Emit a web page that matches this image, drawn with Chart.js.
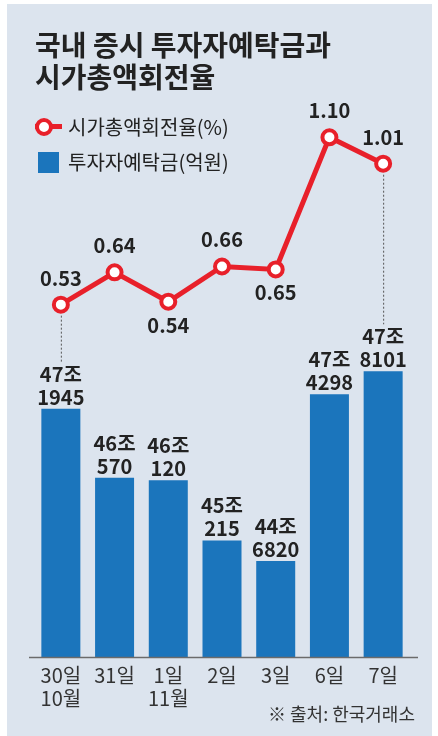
<!DOCTYPE html>
<html>
<head>
  <meta charset="UTF-8">
  <title>국내 증시 투자자예탁금과 시가총액회전율</title>
  <script src="https://cdn.jsdelivr.net/npm/chart.js"></script>
  <style>
    html, body { margin: 0; padding: 0; background: #fff; }
    body {
      width: 438px; height: 736px; position: relative; overflow: hidden;
      font-family: 'Noto Sans CJK KR', 'Noto Sans', sans-serif; color: #222;
    }
    #panel { position: absolute; left: 7px; top: 4px; width: 425px; height: 732px; background: #dce4ee; }
    #title {
      position: absolute; left: 35px; top: 28px; margin: 0;
      font-size: 28px; font-weight: 700; line-height: 32px; color: #222;
    }
    .legText { position: absolute; left: 68px; font-size: 20px; line-height: 24px; color: #222; }
    #mkLine { position: absolute; left: 35px; top: 124px; width: 27px; height: 5px; background: #e8202a; }
    #mkDot {
      position: absolute; left: 35px; top: 118px; width: 10px; height: 10px;
      border: 4px solid #e8202a; border-radius: 50%; background: #fff;
    }
    #mkBar { position: absolute; left: 38px; top: 152px; width: 21px; height: 21px; background: #1b75bc; }
    #source { position: absolute; right: 23px; top: 700px; font-size: 18px; line-height: 26px; color: #333; }
    #chart { position: absolute; left: 0; top: 0; }
  </style>
</head>
<body>
  <div id="panel"></div>
  <canvas id="chart" width="438" height="736"></canvas>
  <h1 id="title">국내 증시 투자자예탁금과<br>시가총액회전율</h1>
  <div id="mkLine"></div><div id="mkDot"></div>
  <div class="legText" style="top:115px">시가총액회전율(%)</div>
  <div id="mkBar"></div>
  <div class="legText" style="top:150px">투자자예탁금(억원)</div>
  <div id="source">※ 출처: 한국거래소</div>

  <script>
    const days = [['30일', '10월'], '31일', ['1일', '11월'], '2일', '3일', '6일', '7일'];
    const deposits = [471945, 460570, 460120, 450215, 446820, 474298, 478101]; // 억원
    const turnover = [0.53, 0.64, 0.54, 0.66, 0.65, 1.10, 1.01];              // %
    const turnoverSide = ['above', 'above', 'below', 'above', 'below', 'above', 'above'];

    const RED = '#e8202a';
    const BLUE = '#1b75bc';
    const FONT = '"Noto Sans CJK KR", "Noto Sans", sans-serif';

    // value labels, dotted links and the base line
    const labelPlugin = {
      id: 'labels',
      afterDatasetsDraw(chart) {
        const ctx = chart.ctx;
        const lineMeta = chart.getDatasetMeta(0);
        const barMeta = chart.getDatasetMeta(1);
        const area = chart.chartArea;
        ctx.save();

        ctx.strokeStyle = '#6b6b6b';
        ctx.lineWidth = 1.5;
        ctx.beginPath();
        ctx.moveTo(area.left - 5, area.bottom + 0.5);
        ctx.lineTo(area.right + 8, area.bottom + 0.5);
        ctx.stroke();

        ctx.strokeStyle = '#555';
        ctx.lineWidth = 1;
        ctx.setLineDash([2, 2]);
        [0, 6].forEach(i => {
          const p = lineMeta.data[i], b = barMeta.data[i];
          ctx.beginPath();
          ctx.moveTo(p.x + 0.5, p.y + 11);
          ctx.lineTo(p.x + 0.5, b.y - 47);
          ctx.stroke();
        });
        ctx.setLineDash([]);

        ctx.fillStyle = '#222';
        ctx.font = 'bold 20px ' + FONT;
        ctx.textAlign = 'center';
        ctx.textBaseline = 'alphabetic';
        barMeta.data.forEach((b, i) => {
          const v = deposits[i];
          ctx.fillText(Math.floor(v / 10000) + '조', b.x, b.y - 27);
          ctx.fillText(String(v % 10000), b.x, b.y - 4);
        });
        lineMeta.data.forEach((p, i) => {
          const y = turnoverSide[i] === 'above' ? p.y - 19 : p.y + 31;
          ctx.fillText(turnover[i].toFixed(2), p.x, y);
        });
        ctx.restore();
      }
    };

    new Chart(document.getElementById('chart'), {
      type: 'bar',
      data: {
        labels: days,
        datasets: [
          {
            type: 'line',
            label: '시가총액회전율(%)',
            data: turnover,
            yAxisID: 'y1',
            order: 0,
            borderColor: RED,
            borderWidth: 5,
            pointRadius: 7,
            pointBorderWidth: 4,
            pointBackgroundColor: '#fff',
            pointBorderColor: RED,
            tension: 0
          },
          {
            label: '투자자예탁금(억원)',
            data: deposits,
            yAxisID: 'y',
            order: 1,
            backgroundColor: BLUE,
            categoryPercentage: 1,
            barPercentage: 0.726
          }
        ]
      },
      options: {
        responsive: false,
        animation: false,
        layout: { padding: { left: 34, right: 28, top: 105, bottom: 19 } },
        plugins: { legend: { display: false }, tooltip: { enabled: false } },
        scales: {
          x: {
            grid: { display: false, drawTicks: false },
            border: { display: false },
            ticks: { color: '#333', padding: 7, font: { family: FONT, size: 20, lineHeight: 1.15 } }
          },
          y: { display: false, min: 431000, max: 522000 },
          y1: { display: false, min: -0.67, max: 1.21 }
        }
      },
      plugins: [labelPlugin]
    });
  </script>
</body>
</html>
